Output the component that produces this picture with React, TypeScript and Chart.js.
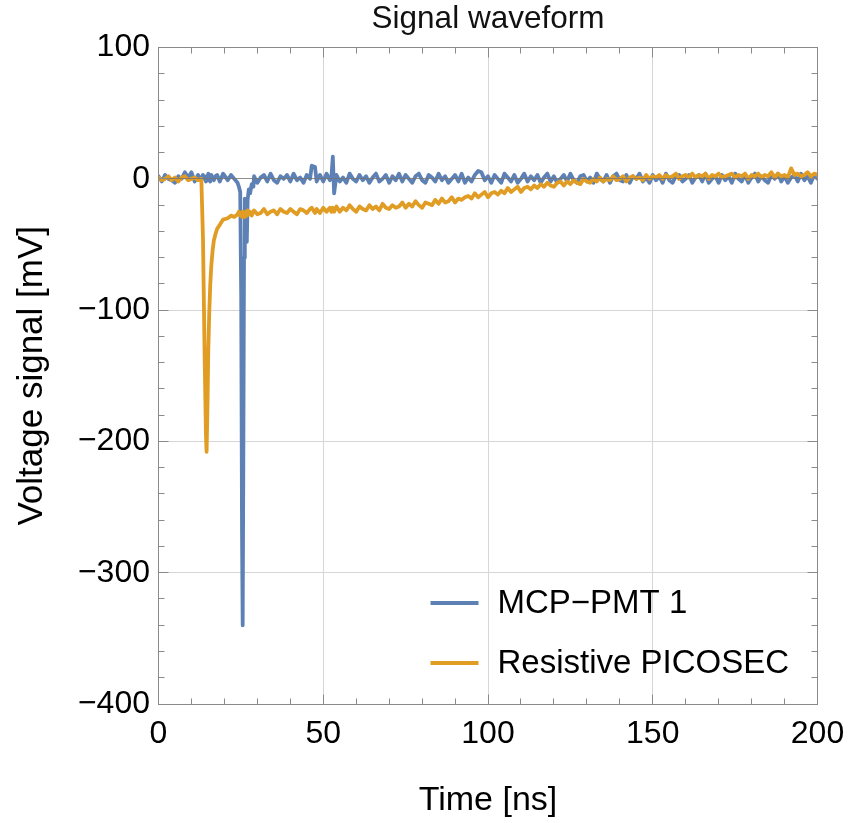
import { useEffect, useRef } from 'react';
import { Chart, registerables } from 'chart.js';

Chart.register(...registerables);
Chart.defaults.font.family = '"Liberation Sans", Arial, Helvetica, sans-serif';

// Sampling times [ns]
const timeNs = [
  0, 1, 2, 3, 4, 5, 6, 7, 8, 9, 10, 11, 12,
  13, 13.5, 14, 14.4, 14.6, 14.9, 15.1, 15.4, 15.7, 16, 16.4, 16.8, 17.3, 17.8, 18.6, 19.6, 21, 22, 23, 24,
  24.4, 24.8, 25.1, 25.35, 25.55, 25.75, 25.95, 26.2, 26.5, 26.8, 27.05, 27.4, 27.8, 28.3, 28.8,
  29, 30, 31, 32, 33, 34, 35, 36, 37, 38, 39, 40, 41, 42, 43, 44, 45, 46,
  46.5, 47.5,
  48, 49, 50, 51, 52,
  52.5, 52.9, 53.3,
  54, 55, 56, 57, 58, 59, 60, 61, 62, 63,
  64, 65, 66, 67, 68, 69, 70, 71, 72, 73,
  74, 75, 76, 77, 78, 79, 80, 81, 82, 83,
  84, 85, 86, 87, 88, 89, 90, 91, 92, 93,
  94, 95, 96, 97, 98, 99, 100, 101, 102, 103,
  104, 105, 106, 107, 108, 109, 110, 111, 112, 113,
  114, 115, 116, 117, 118, 119, 120, 121, 122, 123,
  124, 125, 126, 127, 128, 129, 130, 131, 132, 133,
  134, 135, 136, 137, 138, 139, 140, 141, 142, 143,
  144, 145, 146, 147, 148, 149, 150, 151, 152, 153,
  154, 155, 156, 157, 158, 159, 160, 161, 162, 163,
  164, 165, 166, 167, 168, 169, 170, 171, 172, 173,
  174, 175, 176, 177, 178, 179, 180, 181, 182, 183,
  184, 185, 186, 187, 188, 189, 190, 191, 192, 193,
  194, 195, 196, 197, 198, 199, 200,
];

// MCP-PMT 1 voltage [mV]
const mcpPmtMv = [
  2, -2, 3, 0, -1, -3, 2, 0, 5, 1, 5, -2, 3,
  -1, 3, 1, -2, 2, -1, 4, 0, -2, 3, 1, -1, 2, 3, -2, 4, -1, 3, 0, -3,
  -6, -10, -90, -270, -340, -210, -60, -15, -32, -48, -16, -8, -11, -4, -6,
  2, -3, 1, 3, -2, 4, -1, -3, 2, 0, 3, -2, 4, -1, 1, -3, 3, 0,
  10, 9,
  -2, 3, -2, 4, -1,
  2, 17, -11,
  3, -2, 1, -3, 4, 0, -2, 3, -1, 2,
  -3, 1, 4, -2, 0, 3, -3, 2, -1, 4,
  -2, 3, 0, -3, 2, 4, -1, -3, 3, 1,
  -2, 4, -1, 2, -3, 0, 3, -2, 4, -3,
  1, -2, 3, 6, 5, -1, 2, -3, 3, 0,
  -3, 4, 1, -2, 3, -3, 0, 4, -2, 2,
  -1, 3, -3, 1, 4, -2, 2, -3, 0, 3,
  -2, 4, -1, -3, 2, 3, -2, 1, -3, 4,
  0, -2, 3, -3, 2, 4, -1, -2, 3, -3,
  2, 0, 4, -2, 1, -3, 3, -1, 2, -3,
  4, -1, -3, 2, 3, -2, 0, 3, -3, 1,
  3, -2, 4, -3, 0, 2, -3, 3, -1, 2,
  -3, 4, 0, -2, 3, -3, 1, 4, -2, 2,
  -1, -3, 3, 0, 4, -2, 2, -3, 1, 3,
  -2, 4, -1, 2, -3, 3, 0,
];

// Resistive PICOSEC voltage [mV]
const picosecMv = [
  1, -1, 0, 2, -1, 1, -2, 1, 2, -1, 0, 1, -1,
  0, -45, -135, -195, -208, -168, -132, -102, -81, -67, -55, -47, -42, -38, -35, -31, -30, -28, -29, -27,
  -25, -28, -26, -29, -25, -28, -26, -29, -25, -28, -24, -27, -25, -28, -25,
  -24, -27, -26, -23, -27, -25, -24, -27, -23, -25, -26, -23, -25, -27, -23, -24, -26, -23,
  -22, -26,
  -23, -26, -22, -25, -22,
  -25, -22, -25,
  -21, -25, -22, -24, -20, -23, -25, -21, -23, -24,
  -20, -23, -21, -24, -19, -22, -23, -20, -22, -21,
  -18, -22, -19, -21, -17, -20, -22, -18, -19, -20,
  -16, -19, -15, -18, -17, -14, -18, -15, -16, -14,
  -13, -15, -11, -14, -12, -10, -14, -11, -10, -12,
  -9, -11, -7, -10, -8, -6, -10, -7, -6, -8,
  -5, -7, -4, -6, -3, -5, -6, -3, -2, -5,
  -2, -4, -1, -3, -4, 0, -2, -3, 0, -2,
  1, -2, 0, -1, 2, -1, 0, 2, -2, 1,
  2, 0, 1, -1, 3, 0, 2, 1, 3, 0,
  3, 1, 2, 4, 0, 2, 3, 1, 4, 1,
  3, 2, 4, 0, 3, 2, 4, 1, 2, 3,
  4, 1, 3, 2, 4, 0, 3, 2, 4, 1,
  3, 2, 5, 1, 4, 2, 3, 1, 8, 3,
  4, 2, 3, 5, 2, 4, 3,
];

const seriesLabels = ['MCP\u2212PMT 1', 'Resistive PICOSEC'];
const seriesColors = ['#5E81B5', '#E19C24'];

const xTickValues = [0, 50, 100, 150, 200];
const xMinorTickValues = [10, 20, 30, 40, 60, 70, 80, 90, 110, 120, 130, 140, 160, 170, 180, 190];
const yTickValues = [100, 0, -100, -200, -300, -400];
const yMinorTickValues = [80, 60, 40, 20, -20, -40, -60, -80, -120, -140, -160, -180, -220, -240, -260, -280, -320, -340, -360, -380];
const xGridValues = [50, 100, 150];
const yGridValues = [-100, -200, -300];

const fmt = (v: number) => (v < 0 ? '\u2212' + Math.abs(v) : String(v));

const FRAME_COLOR = '#8a8a8a';
const GRID_COLOR = '#d6d6d6';

const frameTicksPlugin = {
  id: 'frameTicks',
  afterDatasetsDraw(chart: any) {
    const { ctx, chartArea, scales } = chart;
    const { left, right, top, bottom } = chartArea;
    const xs = scales.x;
    const ys = scales.y;
    const px = (v: number) => Math.floor(v) + 0.5;
    ctx.save();
    const y0 = px(ys.getPixelForValue(0));
    ctx.strokeStyle = 'rgba(115,115,115,0.8)';
    ctx.lineWidth = 1;
    ctx.beginPath();
    ctx.moveTo(left, y0);
    ctx.lineTo(right, y0);
    ctx.stroke();
    const L = px(left), R = px(right), T = px(top), B = px(bottom);
    ctx.strokeStyle = FRAME_COLOR;
    ctx.strokeRect(L, T, R - L, B - T);
    ctx.beginPath();
    const xTicks = (vals: number[], len: number) => {
      vals.forEach((v) => {
        const x = px(xs.getPixelForValue(v));
        ctx.moveTo(x, B);
        ctx.lineTo(x, B - len);
        ctx.moveTo(x, T);
        ctx.lineTo(x, T + len);
      });
    };
    const yTicks = (vals: number[], len: number) => {
      vals.forEach((v) => {
        const y = px(ys.getPixelForValue(v));
        ctx.moveTo(L, y);
        ctx.lineTo(L + len, y);
        ctx.moveTo(R, y);
        ctx.lineTo(R - len, y);
      });
    };
    xTicks(xTickValues, 10);
    xTicks(xMinorTickValues, 6);
    yTicks(yTickValues, 10);
    yTicks(yMinorTickValues, 6);
    ctx.stroke();
    ctx.restore();
  },
  afterDraw(chart: any) {
    const { ctx, chartArea } = chart;
    const lineX0 = chartArea.left + 272;
    const lineX1 = lineX0 + 48;
    const textX = lineX1 + 19;
    const rows = [chartArea.bottom - 101, chartArea.bottom - 41];
    ctx.save();
    ctx.font = '33px "Liberation Sans", Arial, sans-serif';
    ctx.textBaseline = 'middle';
    ctx.textAlign = 'left';
    seriesLabels.forEach((label, i) => {
      const y = rows[i];
      ctx.strokeStyle = seriesColors[i];
      ctx.lineWidth = 4;
      ctx.beginPath();
      ctx.moveTo(lineX0, y);
      ctx.lineTo(lineX1, y);
      ctx.stroke();
      ctx.fillStyle = '#000';
      ctx.fillText(label, textX, y + 1);
    });
    ctx.restore();
  },
};

export default function App() {
  const canvasRef = useRef<HTMLCanvasElement | null>(null);

  useEffect(() => {
    if (!canvasRef.current) return;
    const makeData = (vals: number[]) => timeNs.map((t, i) => ({ x: t, y: vals[i] }));
    const zeroPad = (s: any) => {
      s.paddingLeft = 0;
      s.paddingRight = 0;
      s.paddingTop = 0;
      s.paddingBottom = 0;
    };
    const chart = new Chart(canvasRef.current, {
      type: 'line',
      data: {
        datasets: [
          {
            label: seriesLabels[0],
            data: makeData(mcpPmtMv),
            borderColor: seriesColors[0],
            backgroundColor: seriesColors[0],
            order: 1,
          },
          {
            label: seriesLabels[1],
            data: makeData(picosecMv),
            borderColor: seriesColors[1],
            backgroundColor: seriesColors[1],
            order: 0,
          },
        ],
      },
      options: {
        animation: false,
        responsive: false,
        events: [],
        layout: { padding: { right: 31.5, left: 0, top: 0, bottom: 0 } },
        elements: {
          point: { radius: 0 },
          line: { tension: 0, borderWidth: 3.8, borderJoinStyle: 'round', borderCapStyle: 'round' },
        },
        plugins: {
          legend: { display: false },
          tooltip: { enabled: false },
          title: {
            display: true,
            text: 'Signal waveform',
            fullSize: false,
            color: '#111',
            font: { size: 31.5, weight: 'normal' },
            padding: { top: 0.6, bottom: 9.2 },
          },
        },
        scales: {
          x: {
            type: 'linear',
            min: 0,
            max: 200,
            afterBuildTicks: (s: any) => {
              s.ticks = xTickValues.map((v) => ({ value: v }));
            },
            afterFit: (s: any) => {
              s.height = 119;
              zeroPad(s);
            },
            border: { display: false },
            grid: {
              drawTicks: false,
              lineWidth: 1,
              color: (c: any) => (c.tick && xGridValues.includes(c.tick.value) ? GRID_COLOR : 'rgba(0,0,0,0)'),
            },
            ticks: {
              autoSkip: false,
              maxRotation: 0,
              padding: 10.8,
              color: '#000',
              font: { size: 32 },
              callback: (v: any) => fmt(Number(v)),
            },
            title: {
              display: true,
              text: 'Time [ns]',
              color: '#000',
              font: { size: 34 },
              padding: { top: 0, bottom: 2.4 },
            },
          },
          y: {
            type: 'linear',
            min: -400,
            max: 100,
            afterBuildTicks: (s: any) => {
              s.ticks = yTickValues.map((v) => ({ value: v }));
            },
            afterFit: (s: any) => {
              s.width = 158.5;
              zeroPad(s);
            },
            border: { display: false },
            grid: {
              drawTicks: false,
              lineWidth: 1,
              color: (c: any) => (c.tick && yGridValues.includes(c.tick.value) ? GRID_COLOR : 'rgba(0,0,0,0)'),
            },
            ticks: {
              autoSkip: false,
              padding: 8.5,
              color: '#000',
              font: { size: 32 },
              callback: (v: any) => fmt(Number(v)),
            },
            title: {
              display: true,
              text: 'Voltage signal [mV]',
              color: '#000',
              font: { size: 35 },
              padding: { top: 11.5, bottom: 0 },
            },
          },
        },
      },
      plugins: [frameTicksPlugin],
    } as any);
    return () => chart.destroy();
  }, []);

  return (
    <div style={{ position: 'absolute', left: 0, top: 0, width: 849, height: 823, background: '#fff' }}>
      <canvas ref={canvasRef} width={849} height={823} />
    </div>
  );
}
